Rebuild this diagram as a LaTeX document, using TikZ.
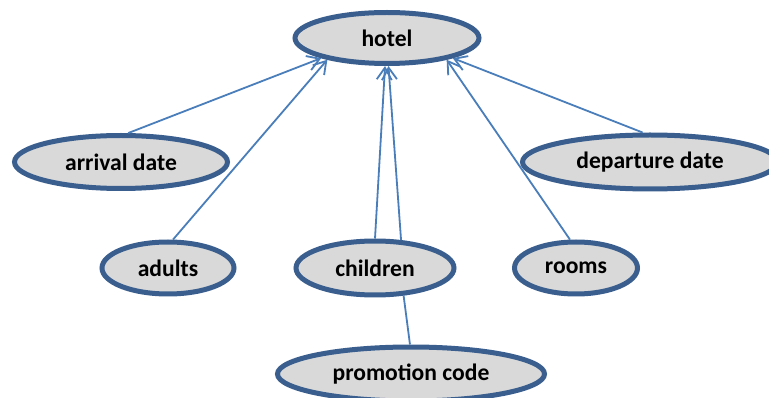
\documentclass[tikz,border=0pt]{standalone}
\usepackage{fontspec}
\setmainfont{Carlito}
\usetikzlibrary{shapes.geometric,arrows.meta}
\definecolor{rimblue}{HTML}{3A5F8F}
\definecolor{linkblue}{HTML}{4A7EBB}
\definecolor{bubblegray}{HTML}{D9D9D9}
\tikzset{
  bubble/.style={ellipse, draw=rimblue, fill=bubblegray, line width=5pt,
    inner sep=0pt, font=\fontsize{23.6}{28}\selectfont\bfseries},
  link/.style={draw=linkblue, line width=1.8pt},
  arrowlink/.style={link, -{Straight Barb[length=12pt,width=15pt,line width=1.8pt]}}
}
\begin{document}
\begin{tikzpicture}[x=1pt,y=-1pt]
  \fill[white] (0,0) rectangle (769,398);
  \useasboundingbox (0,0) rectangle (769,398);

  \node[bubble, minimum width=184pt, minimum height=51pt] (hotel) at (387,38) {hotel};
  \node[bubble, minimum width=213pt, minimum height=53pt] (arrival) at (121,162) {arrival date};
  \node[bubble, minimum width=255pt, minimum height=54pt] (departure) at (650,162) {departure date};
  \node[bubble, minimum width=132pt, minimum height=52pt] (adults) at (168,268) {adults};
  \node[bubble, minimum width=158pt, minimum height=54pt] (children) at (375,268) {children};
  \node[bubble, minimum width=123pt, minimum height=52pt] (rooms) at (576,268) {rooms};
  \node[bubble, minimum width=267pt, minimum height=54pt] (promo) at (411,374) {promotion code};

  % attributes pointing to the hotel entity
  \draw[arrowlink] (arrival.76) -- (hotel.197);
  \draw[arrowlink] (adults.80) -- (hotel.200);
  \draw[arrowlink] (children.90) -- (hotel.266);
  \draw[arrowlink] (children.47) -- (hotel.273);
  \draw[arrowlink] (rooms.102) -- (hotel.340);
  \draw[arrowlink] (departure.104) -- (hotel.343);

  % children linked to the promotion code
  \draw[link] (children.316) -- (promo.92);
\end{tikzpicture}
\end{document}
